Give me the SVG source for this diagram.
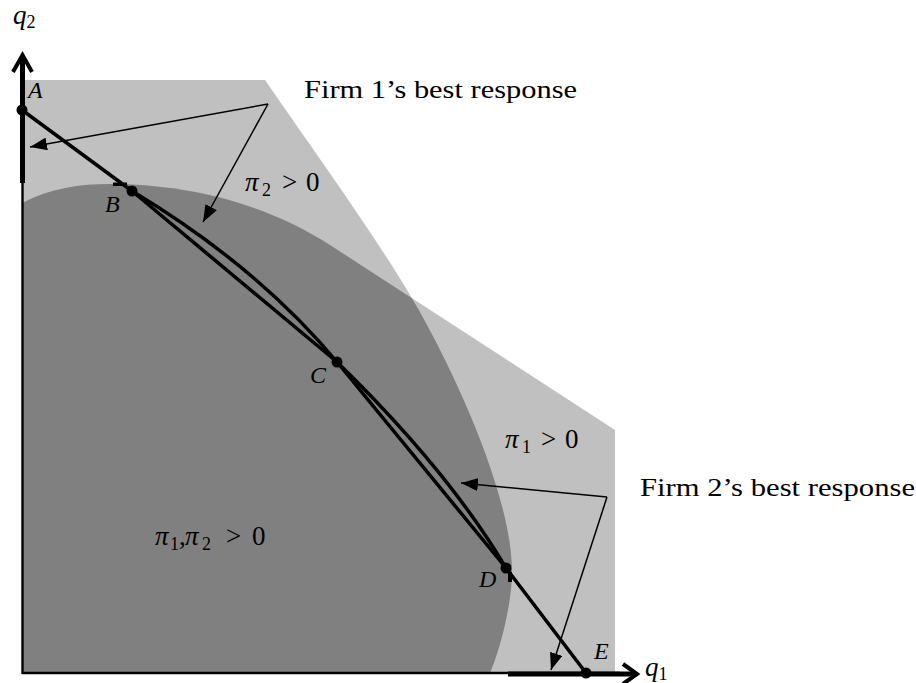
<svg xmlns="http://www.w3.org/2000/svg" width="916" height="683" viewBox="0 0 916 683">
<defs>
<style>
.light{fill:#c0c0c0}
.dark{fill:#808080}
.br{fill:none;stroke:#000;stroke-width:3.5;stroke-linejoin:round}
.ax{fill:none;stroke:#000;stroke-width:2.4}
.axt{fill:none;stroke:#000;stroke-width:5}
.chev{fill:none;stroke:#000;stroke-width:4;stroke-linejoin:miter}
.ptr{fill:none;stroke:#000;stroke-width:1.5}
.dot{fill:#000}
text{font-family:'Liberation Serif','Times New Roman',Tinos,serif;fill:#000}
.lbl{font-style:italic;font-size:24px}
.txt{font-size:26px}
.math{font-size:27px}
.it{font-style:italic}
.sub{font-size:18px}
</style>
<path id="pi2" d="M22 80 L265 80 C315 153 373 232 413 300 C453 368 512 495 512 572 C512 600 502 645 490 673 L22 673 Z"/>
<path id="pi1" d="M22 203 C50 188 80 184 110 184 C180 184 260 200 330 245 L615 430 L615 673 L22 673 Z"/>
<clipPath id="clip2"><path d="M22 80 L265 80 C315 153 373 232 413 300 C453 368 512 495 512 572 C512 600 502 645 490 673 L22 673 Z"/></clipPath>
<marker id="ah" viewBox="0 0 17 13" refX="17" refY="6.5" markerWidth="17" markerHeight="13" markerUnits="userSpaceOnUse" orient="auto">
<path d="M0 0 L17 6.5 L0 13 Z" fill="#000"/>
</marker>
</defs>

<g id="regions">
<use href="#pi2" class="light"/>
<use href="#pi1" class="light"/>
<use href="#pi1" class="dark" clip-path="url(#clip2)"/>
</g>

<g id="axes">
<line class="ax" x1="22.5" y1="183" x2="22.5" y2="674"/>
<line class="axt" x1="22.5" y1="56" x2="22.5" y2="183"/>
<path class="chev" d="M13 72 L22.5 55 L32 72"/>
<line class="ax" x1="22" y1="673" x2="620" y2="673"/>
<line class="axt" x1="508" y1="674" x2="636" y2="674"/>
<path class="chev" d="M623 664 L637 674 L623 684"/>
<rect x="113" y="182.5" width="14" height="3.5" fill="#000"/>
<rect x="508" y="572" width="4" height="10" fill="#000"/>
</g>

<g id="connectors">
<path id="br-upper" class="br" d="M22 110 L132 191 Q257 266 337 362 L506 568 L586 673"/>
<path id="br-lower" class="br" d="M132 191 L337 362 Q448 470 506 568"/>
<line class="ptr" x1="268" y1="104" x2="30" y2="147" marker-end="url(#ah)"/>
<line class="ptr" x1="268" y1="104" x2="203" y2="222" marker-end="url(#ah)"/>
<line class="ptr" x1="607" y1="497" x2="461" y2="483" marker-end="url(#ah)"/>
<line class="ptr" x1="607" y1="497" x2="551" y2="670" marker-end="url(#ah)"/>
</g>

<g id="point-A"><circle class="dot" cx="22" cy="110" r="5.5"/><text class="lbl" x="28" y="98">A</text></g>
<g id="point-B"><circle class="dot" cx="132" cy="191" r="5.5"/><text class="lbl" x="105" y="212">B</text></g>
<g id="point-C"><circle class="dot" cx="337" cy="362" r="5.5"/><text class="lbl" x="310" y="383">C</text></g>
<g id="point-D"><circle class="dot" cx="506" cy="568" r="5.5"/><text class="lbl" x="479" y="587">D</text></g>
<g id="point-E"><circle class="dot" cx="586" cy="673" r="5.5"/><text class="lbl" x="594" y="659">E</text></g>

<g id="label-q2"><text class="math" x="13" y="24"><tspan class="it">q</tspan><tspan class="sub" dy="4">2</tspan></text></g>
<g id="label-q1"><text class="math" x="645" y="676"><tspan class="it">q</tspan><tspan class="sub" dy="4">1</tspan></text></g>

<g id="label-firm1"><text class="txt" x="304" y="98" textLength="273" lengthAdjust="spacingAndGlyphs">Firm 1’s best response</text></g>
<g id="label-firm2"><text class="txt" x="640" y="496" textLength="275" lengthAdjust="spacingAndGlyphs">Firm 2’s best response</text></g>

<g id="label-pi2"><text class="math" y="191"><tspan x="245" class="it">π</tspan><tspan x="262" dy="5" class="sub">2</tspan><tspan x="282" dy="-5">&gt;</tspan><tspan x="306">0</tspan></text></g>
<g id="label-pi1"><text class="math" y="448"><tspan x="505" class="it">π</tspan><tspan x="522" dy="5" class="sub">1</tspan><tspan x="541" dy="-5">&gt;</tspan><tspan x="565">0</tspan></text></g>
<g id="label-pi12"><text class="math" y="545"><tspan x="155" class="it">π</tspan><tspan x="170" dy="5" class="sub">1</tspan><tspan x="179" dy="-5">,</tspan><tspan x="185" class="it">π</tspan><tspan x="202" dy="5" class="sub">2</tspan><tspan x="226" dy="-5">&gt;</tspan><tspan x="252">0</tspan></text></g>
</svg>
